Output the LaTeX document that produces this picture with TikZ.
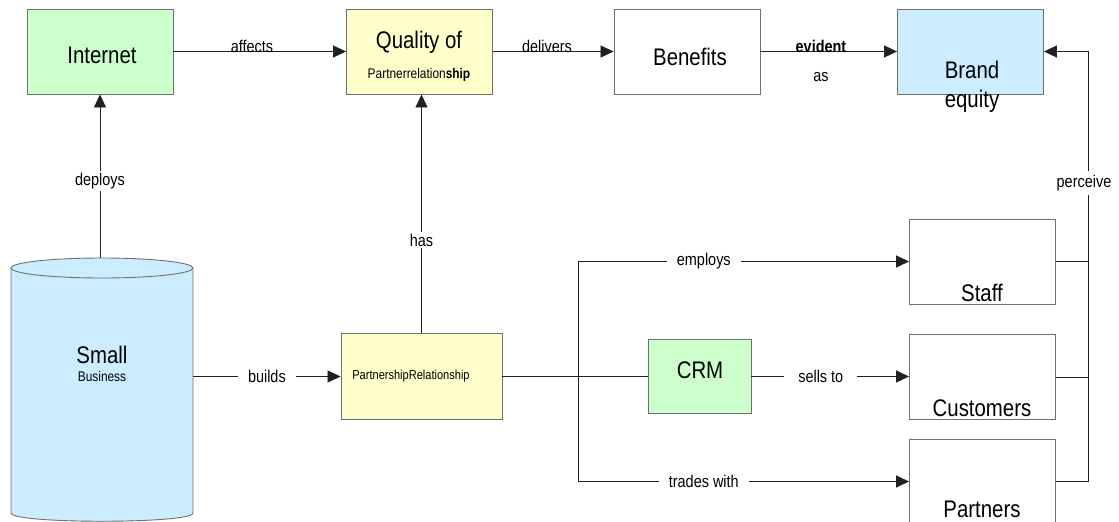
\documentclass[tikz,border=0pt]{standalone}
\usepackage{fontspec}
\setmainfont{Liberation Sans}[FakeStretch=0.85]
\usetikzlibrary{arrows.meta}
\definecolor{gfill}{HTML}{CCFFCC}
\definecolor{yfill}{HTML}{FFFFCC}
\definecolor{bfill}{HTML}{CCECFF}
\definecolor{boxc}{HTML}{707070}
\definecolor{linec}{HTML}{202020}
\begin{document}
\begin{tikzpicture}[x=1pt,y=-1pt,
  box/.style={draw=boxc, line width=0.9pt, minimum width=146pt, minimum height=85pt, inner sep=0pt},
  bigtxt/.style={inner sep=0pt, font=\fontsize{24}{28}\selectfont},
  smalltxt/.style={inner sep=0pt, font=\fontsize{14}{16}\selectfont},
  lab/.style={fill=white, inner sep=2pt, font=\fontsize{17}{20}\selectfont},
  toplab/.style={anchor=base, inner sep=1pt, font=\fontsize{17}{20}\selectfont},
  conn/.style={draw=linec, line width=0.8pt},
  arr/.style={conn, -{Triangle[length=13pt,width=12pt]}}
]
\useasboundingbox (0,0) rectangle (1119,522);

% top row boxes
\node[box, fill=gfill] (inet) at (100,51.5) {};
\node[bigtxt] (inettxt) at (102,55) {Internet};
\node[box, fill=yfill] (qual) at (419.5,51.5) {};
\node[bigtxt] (qualtxt) at (419,42) {Quality of};
\node[smalltxt] (qualtxt2) at (419,75) {Partnerrelation\textbf{ship}};
\node[box, fill=white] (bene) at (687,51.5) {};
\node[bigtxt] (benetxt) at (690,57) {Benefits};
\node[box, fill=bfill] (brand) at (970.5,51.5) {};
\node[bigtxt] (brandtxt) at (972,70) {Brand};
\node[bigtxt] (brandtxt2) at (972,101) {equity};

% cylinder
\node[inner sep=0pt, minimum width=182pt, minimum height=262pt] (sb) at (102,389) {};
\filldraw[fill=bfill, draw=boxc, line width=0.9pt] (11,268) -- (11,513) .. controls (11,524) and (193,524) .. (193,513) -- (193,268);
\filldraw[fill=bfill, draw=boxc, line width=0.9pt] (102,268) ellipse [x radius=91, y radius=10];
\node[bigtxt] (sbtxt) at (102,355) {Small};
\node[smalltxt] (sbtxt2) at (102,376) {Business};

% middle
\node[box, fill=yfill, minimum width=161pt, minimum height=86pt] (pr) at (421.5,376.5) {};
\node[smalltxt, font=\fontsize{13}{15}\selectfont] (prtxt) at (411,376) {PartnershipRelationship};
\node[box, fill=gfill, minimum width=103pt, minimum height=74pt] (crm) at (699.5,376.5) {};
\node[bigtxt] (crmtxt) at (700,370) {CRM};

% right boxes
\node[box, fill=white] (staff) at (982.5,261.5) {};
\node[bigtxt] (stafftxt) at (982,293) {Staff};
\node[box, fill=white] (cust) at (982.5,377) {};
\node[bigtxt] (custtxt) at (982,408) {Customers};
\node[box, fill=white] (part) at (982.5,481.5) {};
\node[bigtxt] (parttxt) at (982,509) {Partners};

% connectors top row
\draw[arr] (inet.east) -- (qual.west);
\node[toplab] (laffects) at (252,52) {affects};
\draw[arr] (qual.east) -- (bene.west);
\node[toplab] (ldelivers) at (547,52) {delivers};
\draw[arr] (bene.east) -- (brand.west);
\node[toplab, font=\bfseries\fontsize{17}{20}\selectfont] (levident) at (821,52) {evident};
\node[inner sep=0pt, font=\fontsize{17}{20}\selectfont] (las) at (821,77) {as};

% deploys
\draw[arr] (inet.south |- sb.north) -- node[lab, pos=0.47] (ldeploys) {deploys} (inet.south);
% has
\draw[arr] (pr.north) -- node[lab, pos=0.39] (lhas) {has} (pr.north |- qual.south);
% builds
\draw[arr] (sb.east |- pr.west) -- node[lab, inner xsep=10pt] (lbuilds) {builds} (pr.west);

% branch
\coordinate (br) at (578,376.5);
\draw[conn] (pr.east) -- (crm.west);
\draw[conn] (br |- staff.west) -- (br |- part.west);
\draw[arr] (br |- staff.west) -- node[lab, inner xsep=10pt, pos=0.38] (lemploys) {employs} (staff.west);
\draw[arr] (br |- part.west) -- node[lab, inner xsep=10pt, pos=0.38] (ltrades) {trades with} (part.west);
\draw[arr] (crm.east) -- node[lab, inner xsep=14pt, pos=0.44] (lsells) {sells to} (crm.east -| cust.west);

% perceive
\coordinate (pv) at (1088,51.5);
\draw[conn] (staff.east) -- (pv |- staff.east);
\draw[conn] (cust.east) -- (pv |- cust.east);
\draw[arr] (part.east) -- (pv |- part.east) -- (pv) -- (brand.east);
\node[lab, inner ysep=4pt] (lperceive) at (1084,183) {perceive};
\end{tikzpicture}
\end{document}
